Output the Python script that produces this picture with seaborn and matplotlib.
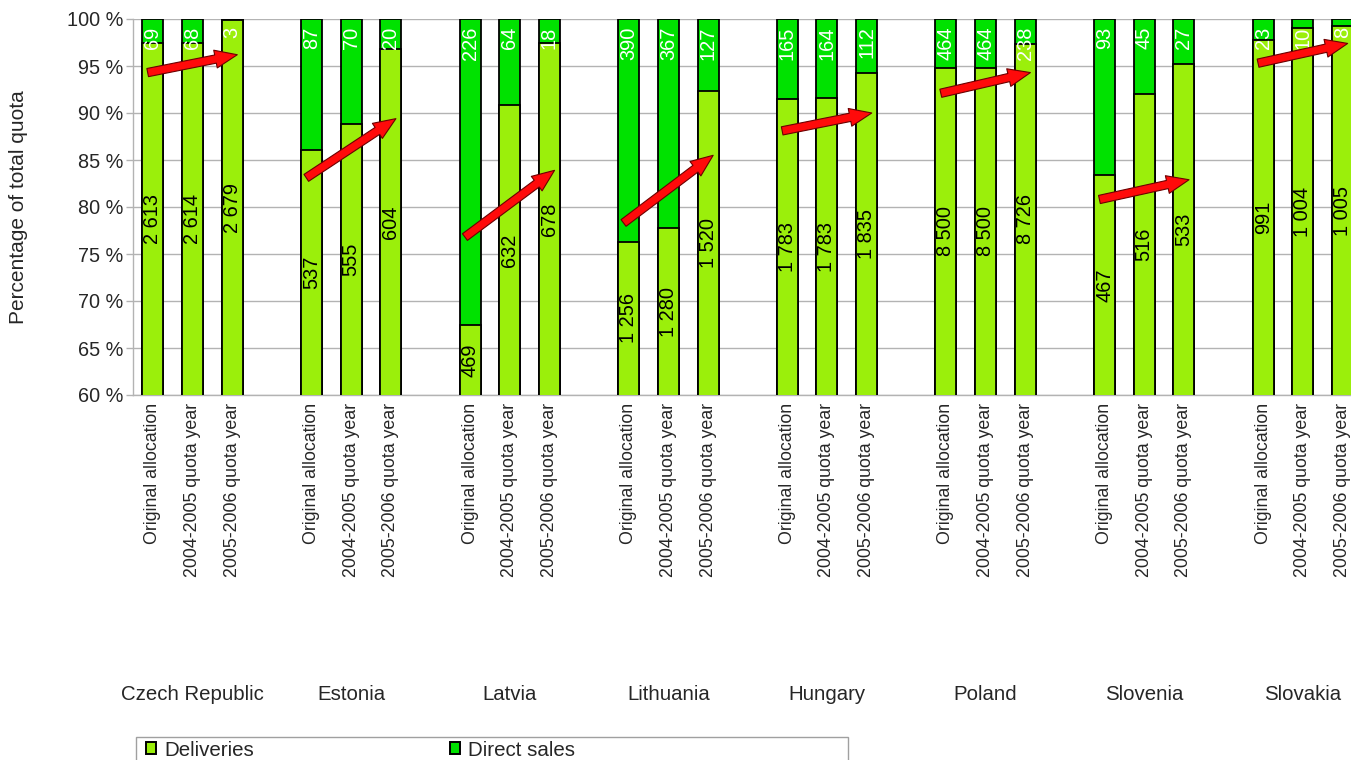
import matplotlib
matplotlib.use("Agg")
import matplotlib.pyplot as plt
from matplotlib.patches import Patch, Rectangle
import numpy as np
import pandas as pd
import seaborn as sns

# Milk quota use by new member states: deliveries vs. direct sales (tonnes)
countries = ["Czech Republic", "Estonia", "Latvia", "Lithuania",
             "Hungary", "Poland", "Slovenia", "Slovakia"]
periods = ["Original allocation", "2004-2005 quota year", "2005-2006 quota year"]

deliveries = [
    [2613, 2614, 2679],
    [537, 555, 604],
    [469, 632, 678],
    [1256, 1280, 1520],
    [1783, 1783, 1835],
    [8500, 8500, 8726],
    [467, 516, 533],
    [991, 1004, 1005],
]
direct_sales = [
    [69, 68, 3],
    [87, 70, 20],
    [226, 64, 18],
    [390, 367, 127],
    [165, 164, 112],
    [464, 464, 238],
    [93, 45, 27],
    [23, 10, 8],
]

# Hand-placed trend arrows (percent level at the first and third bar)
arrow_levels = [
    (94.3, 96.2), (83.1, 89.4), (76.8, 83.9), (78.3, 85.5),
    (88.1, 90.0), (92.1, 94.3), (80.8, 82.9), (95.3, 97.4),
]

DELIV_COLOR = "#9BEF0B"
DIRECT_COLOR = "#00E200"
GRID_COLOR = "#b3b3b3"

rows = []
for g, country in enumerate(countries):
    for j, period in enumerate(periods):
        d = deliveries[g][j]
        s = direct_sales[g][j]
        rows.append(dict(country=country, period=period, slot=4 * g + j,
                         deliveries=d, direct=s,
                         share=100.0 * d / (d + s), total=100.0))
df = pd.DataFrame(rows)

sns.set_theme(style="white")
plt.rcParams["font.family"] = ["Liberation Sans", "DejaVu Sans"]

W, H = 1351, 760
fig = plt.figure(figsize=(W / 100, H / 100), dpi=100)
ax_left, ax_top, ax_bottom, ax_right = 133, 19, 395, 1402
ax = fig.add_axes([ax_left / W, 1 - ax_bottom / H,
                   (ax_right - ax_left) / W, (ax_bottom - ax_top) / H])

# Full-height bar in the direct-sales colour, deliveries share stacked over it
sns.barplot(data=df, x="slot", y="total", native_scale=True, orient="x",
            color=DIRECT_COLOR, saturation=1, edgecolor="black", linewidth=1.3,
            width=0.53, errorbar=None, ax=ax, zorder=2)
sns.barplot(data=df, x="slot", y="share", native_scale=True, orient="x",
            color=DELIV_COLOR, saturation=1, edgecolor="black", linewidth=1.3,
            width=0.53, errorbar=None, ax=ax, zorder=3)

ymin, ymax = 60, 100
ax.set_ylim(ymin, ymax)
ax.set_xlim(-0.5, 31.5)

def fmt(v):
    return f"{v:,}".replace(",", " ")

for _, r in df.iterrows():
    ax.text(r.slot, (ymin + r.share) / 2, fmt(r.deliveries), rotation=90,
            ha="center", va="center", fontsize=14.4, color="black", zorder=5)
    ax.text(r.slot, 99.2, fmt(r.direct), rotation=90,
            ha="center", va="top", fontsize=14.4, color="white", zorder=5)

for g, (y0, y1) in enumerate(arrow_levels):
    x0 = 4 * g - 0.13
    x1 = 4 * g + 2 + 0.13
    ax.annotate("", xy=(x1, y1), xytext=(x0, y0),
                arrowprops=dict(arrowstyle="simple,head_length=1.6,head_width=1.3,tail_width=0.6",
                                mutation_scale=10, fc="#ff0a0a", ec="#6b0000",
                                lw=0.8, shrinkA=0, shrinkB=0),
                zorder=6)

# Axes styling
ax.set_yticks(np.arange(60, 101, 5))
ax.set_yticklabels([f"{t} %" for t in range(60, 101, 5)], fontsize=14.3)
ax.yaxis.grid(True, color=GRID_COLOR, linewidth=1.0, zorder=0)
ax.set_axisbelow(True)
ax.tick_params(axis="y", length=5, width=1, color=GRID_COLOR, pad=2, left=True)
for side in ["top", "right"]:
    ax.spines[side].set_visible(False)
for side in ["left", "bottom"]:
    ax.spines[side].set_color(GRID_COLOR)
    ax.spines[side].set_linewidth(1.0)

ax.set_xticks(df["slot"])
ax.set_xticklabels(df["period"], rotation=90, ha="center", va="top", fontsize=12.8)
ax.tick_params(axis="x", length=0, pad=6)
ax.set_xlabel("")
ax.set_ylabel("Percentage of total quota", fontsize=15)
ax.yaxis.set_label_coords((28 - ax_left) / (ax_right - ax_left), 0.5)

# Country names under each group of three bars
for g, country in enumerate(countries):
    ax.text(4 * g + 1, (ax_bottom - 695) / (ax_bottom - ax_top), country,
            transform=ax.get_xaxis_transform(), ha="center", va="center",
            fontsize=14.7, clip_on=False)

# Legend
fig.patches.append(Rectangle((136 / W, -0.05), (848 - 136) / W, 0.05 + (H - 737) / H,
                             transform=fig.transFigure, fill=True, fc="white",
                             ec="#a0a0a0", lw=1.0, zorder=0))
handles = [Patch(facecolor=DELIV_COLOR, edgecolor="black", linewidth=1.4),
           Patch(facecolor=DIRECT_COLOR, edgecolor="black", linewidth=1.4)]
fig.legend(handles, ["Deliveries", "Direct sales"], loc="center left",
           bbox_to_anchor=(146 / W, 1 - 750 / H), ncol=2, frameon=False,
           fontsize=14.8, handlelength=0.5, handleheight=0.5, handletextpad=0.4,
           columnspacing=9.5, borderpad=0, borderaxespad=0)

fig.savefig("out.png", dpi=100)
